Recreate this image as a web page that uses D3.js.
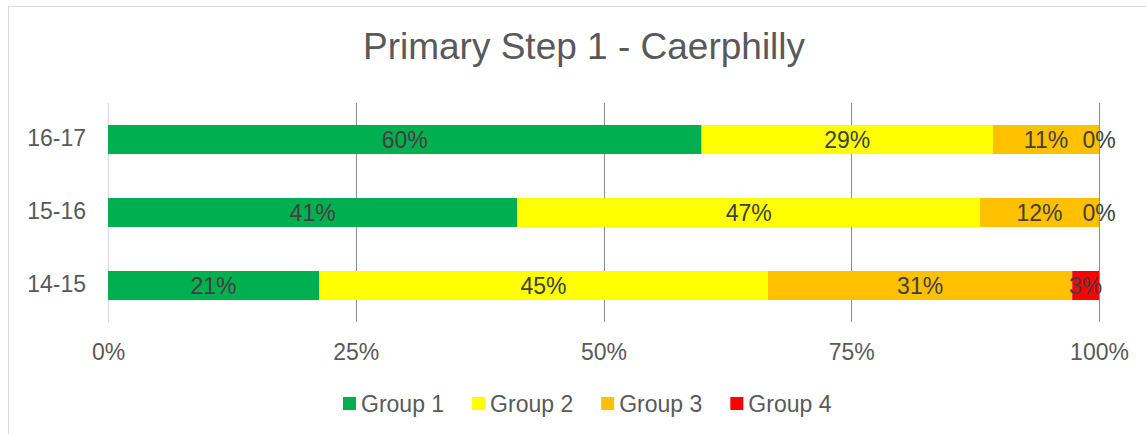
<!DOCTYPE html>
<html>
<head>
<meta charset="utf-8">
<script src="https://cdn.jsdelivr.net/npm/d3@7"></script>
<style>
  html, body { margin: 0; padding: 0; background: #fff; }
  svg { display: block; font-family: "Liberation Sans", Arial, sans-serif; }
</style>
</head>
<body>
<svg id="chart" width="1146" height="434"></svg>
<script>
// ---- Data ----
const title = "Primary Step 1 - Caerphilly";
const categories = ["16-17", "15-16", "14-15"];
const seriesNames = ["Group 1", "Group 2", "Group 3", "Group 4"];
const group1 = [59.9, 41.3, 21.3];
const group2 = [29.4, 46.7, 45.3];
const group3 = [10.7, 12.0, 30.7];
const group4 = [0.0, 0.0, 2.7];
const colors = ["#00B050", "#FFFF00", "#FFC000", "#FF0000"];
const xTicks = [0, 0.25, 0.5, 0.75, 1];

const seriesValues = [group1, group2, group3, group4];
const rows = categories.map((c, i) => {
  const r = { cat: c };
  seriesNames.forEach((s, j) => { r[s] = seriesValues[j][i] / 100; });
  return r;
});

const svg = d3.select("#chart");
const W = 1146, H = 434;

// outer chart border
svg.append("rect")
  .attr("x", 8.5).attr("y", 6.5)
  .attr("width", W + 20).attr("height", H + 20)
  .attr("fill", "#fff").attr("stroke", "#d9d9d9").attr("stroke-width", 1);

const x = d3.scaleLinear().domain([0, 1]).range([108, 1099]);
const y = d3.scaleBand().domain(categories).range([103, 322])
  .paddingInner(0.6027).paddingOuter(0.3014);

// title
svg.append("text")
  .attr("x", 584).attr("y", 59)
  .attr("text-anchor", "middle")
  .attr("font-size", 37).attr("fill", "#595959")
  .text(title);

// gridlines
svg.append("g").selectAll("line").data(xTicks).join("line")
  .attr("x1", d => Math.round(x(d)) + 0.5).attr("x2", d => Math.round(x(d)) + 0.5)
  .attr("y1", 103).attr("y2", 322)
  .attr("stroke", d => d === 0 ? "#d9d9d9" : "#8c8c8c")
  .attr("stroke-width", 1);

// x axis labels
const xAxis = d3.axisBottom(x).tickValues(xTicks).tickFormat(d3.format(".0%")).tickSize(0).tickPadding(0);
const gx = svg.append("g").attr("transform", "translate(0,344)").call(xAxis);
gx.select(".domain").remove();
gx.selectAll("text").attr("font-size", 23).attr("fill", "#595959")
  .attr("font-family", "Liberation Sans, Arial, sans-serif")
  .attr("dy", "0.71em").attr("y", 0);

// y axis labels
const yAxis = d3.axisLeft(y).tickSize(0).tickPadding(0);
const gy = svg.append("g").attr("transform", "translate(86,0)").call(yAxis);
gy.select(".domain").remove();
gy.selectAll("text").attr("font-size", 23).attr("fill", "#595959")
  .attr("font-family", "Liberation Sans, Arial, sans-serif")
  .attr("dy", "0.3em").attr("x", 0);

// stacked bars
const stack = d3.stack().keys(seriesNames);
const stacked = stack(rows);

const layers = svg.append("g").selectAll("g").data(stacked).join("g")
  .attr("fill", (d, i) => colors[i]);

layers.selectAll("rect").data(d => d).join("rect")
  .attr("x", d => x(d[0]))
  .attr("y", d => y(d.data.cat))
  .attr("width", d => Math.max(0, x(d[1]) - x(d[0])))
  .attr("height", y.bandwidth());

// data labels
const fmt = d3.format(".0%");
const labels = svg.append("g");
stacked.forEach((layer) => {
  layer.forEach(d => {
    labels.append("text")
      .attr("x", (x(d[0]) + x(d[1])) / 2)
      .attr("y", y(d.data.cat) + y.bandwidth() / 2)
      .attr("dy", "0.35em")
      .attr("text-anchor", "middle")
      .attr("font-size", 23).attr("fill", "#404040")
      .text(fmt(d[1] - d[0]));
  });
});

// legend
const legend = svg.append("g");
let lx = 343;
seriesNames.forEach((s, i) => {
  legend.append("rect")
    .attr("x", lx).attr("y", 397)
    .attr("width", 13).attr("height", 13)
    .attr("fill", colors[i]);
  const t = legend.append("text")
    .attr("x", lx + 18).attr("y", 412)
    .attr("font-size", 23).attr("fill", "#595959")
    .text(s);
  lx += 18 + t.node().getComputedTextLength() + 28;
});
</script>
</body>
</html>
